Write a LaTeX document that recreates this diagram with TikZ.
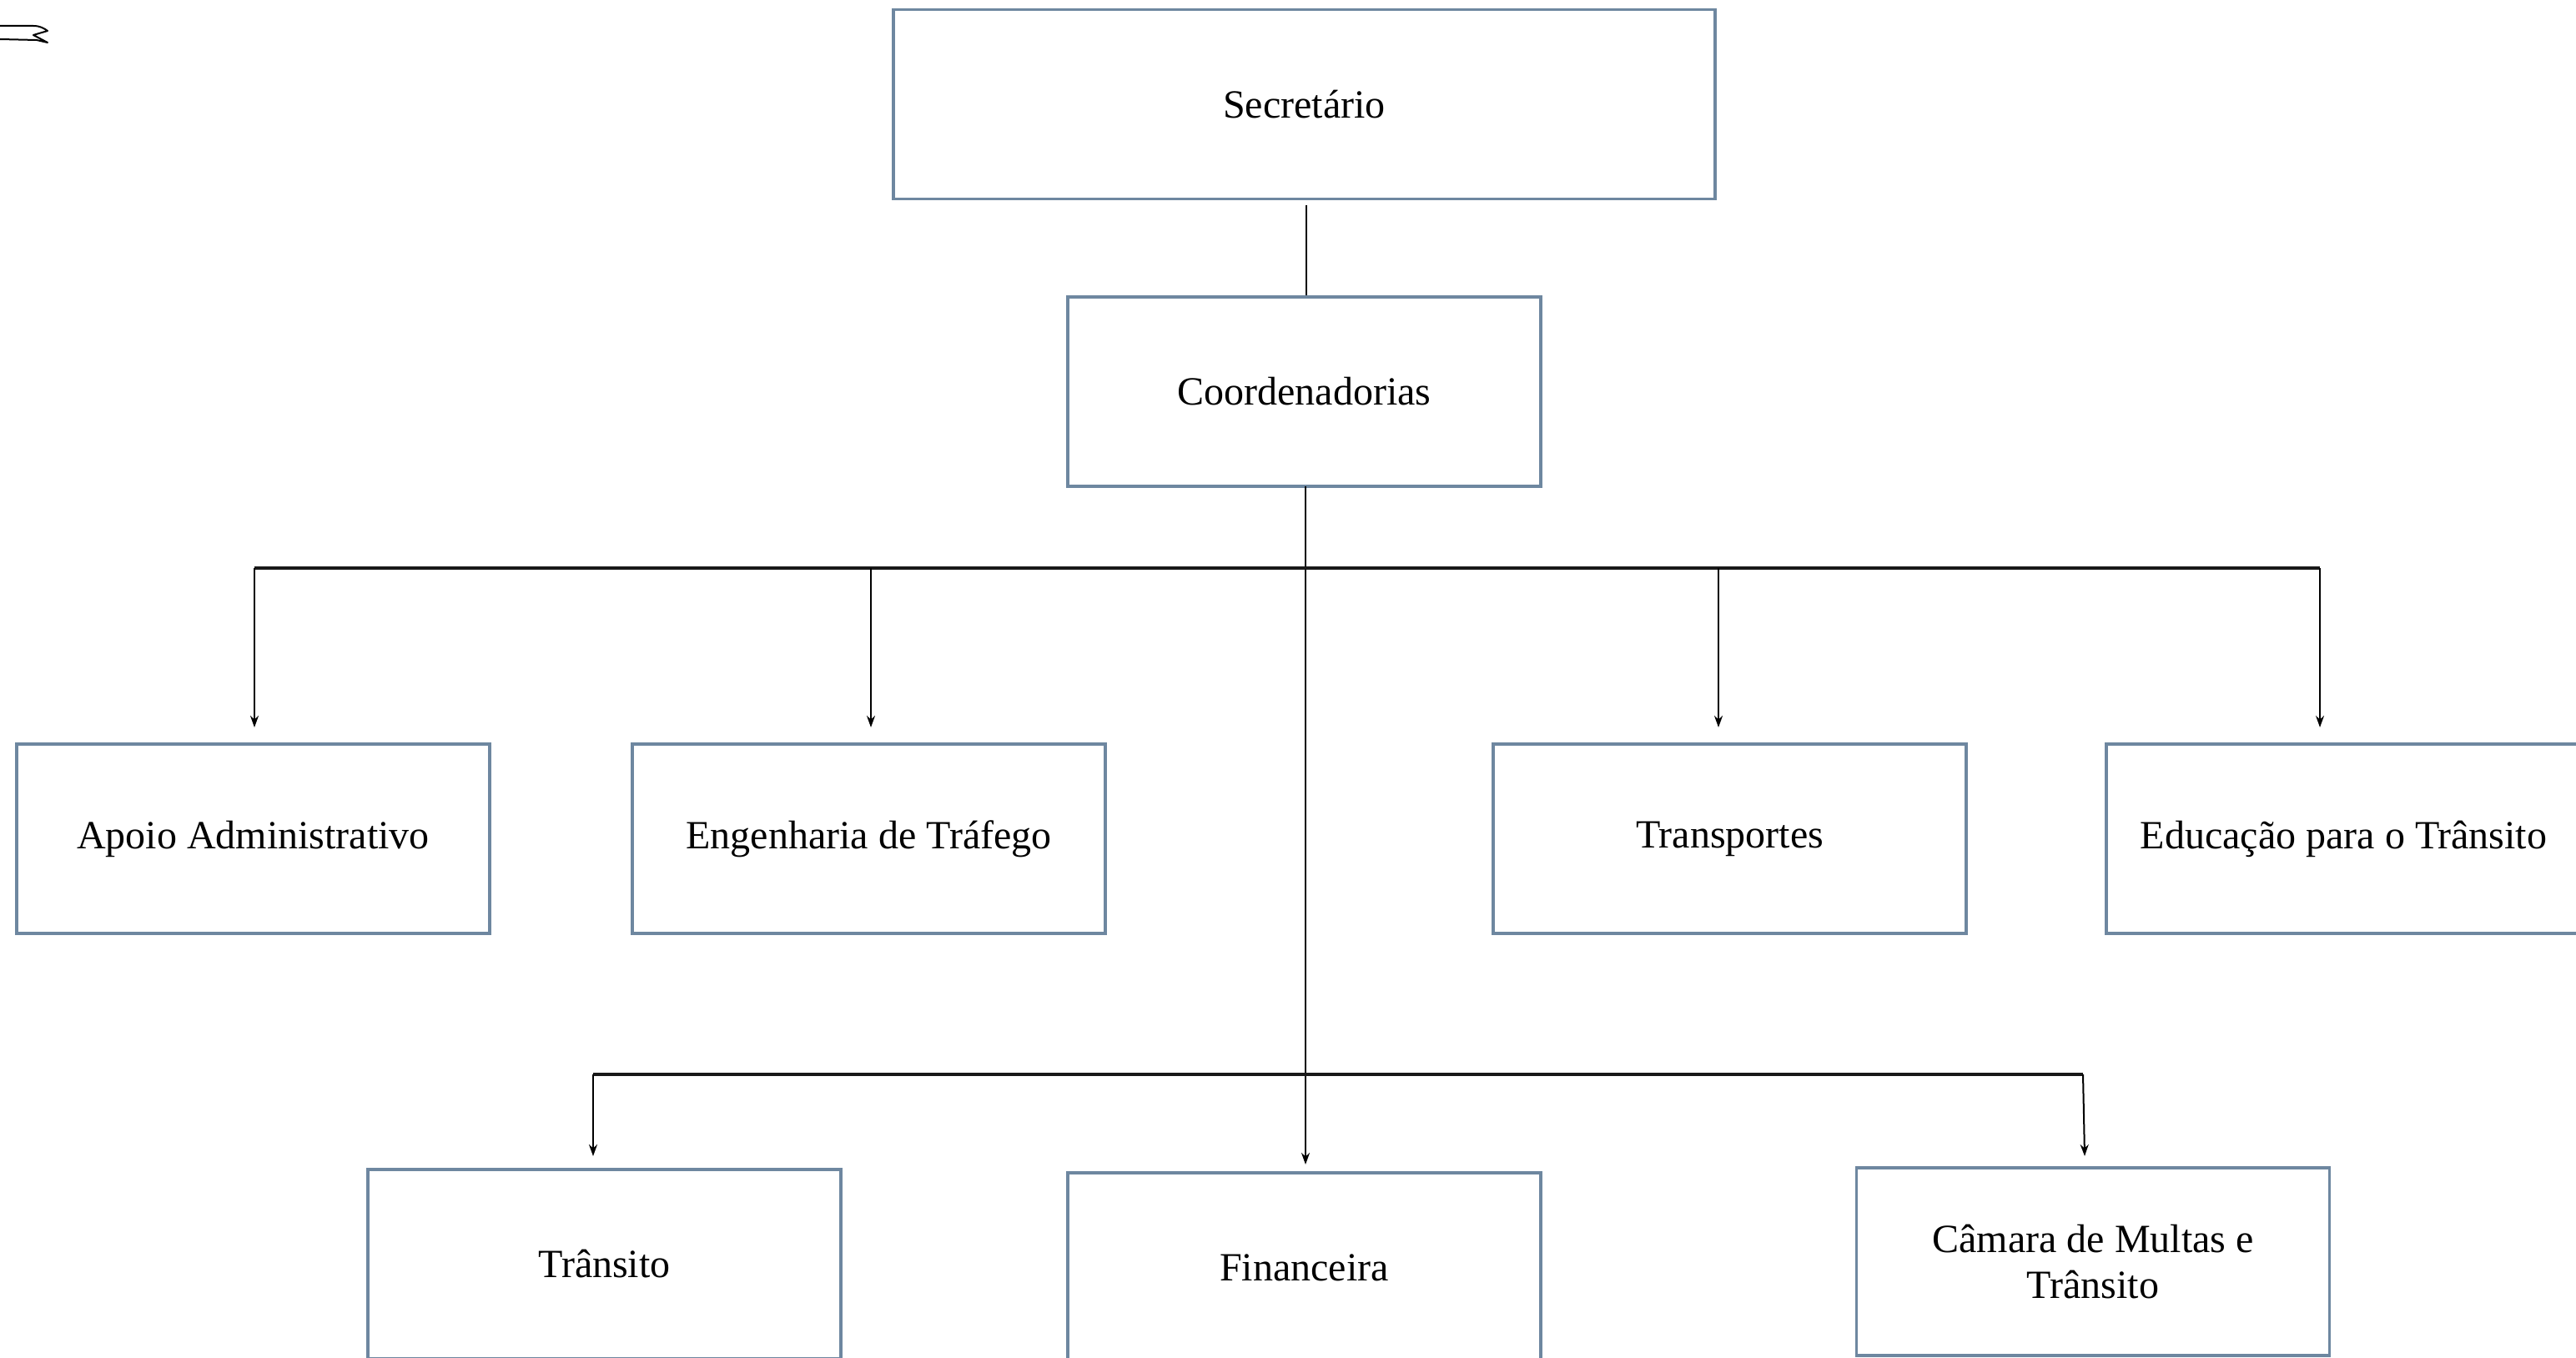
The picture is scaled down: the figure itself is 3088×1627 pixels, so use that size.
\documentclass[tikz,border=0pt]{standalone}
\usepackage{fontspec}
\setmainfont{Liberation Serif}
\usetikzlibrary{arrows.meta}
\definecolor{boxline}{HTML}{6E87A0}
\newcommand{\lowtxt}[1]{\raisebox{-5pt}{#1}}
\tikzset{
  orgbox/.style={draw=boxline, line width=3.5pt, fill=white, minimum width=567pt, minimum height=227pt, inner sep=0pt, align=center, font=\fontsize{48}{55}\selectfont},
  thinline/.style={draw=black, line width=2pt},
  barline/.style={draw=black!90, line width=3.5pt},
  arr/.style={thinline, -{Stealth[length=14pt,width=10pt]}}
}
\begin{document}
\begin{tikzpicture}[x=1pt,y=-1pt]
\useasboundingbox (0,0) rectangle (3088,1627);
% stray mark top left
\draw[line width=2pt, line join=round] (0,31) -- (40,31) .. controls (48,31) and (53,34) .. (57,37) -- (40,42) -- (57,51) -- (44,48) -- (0,47);
% nodes
\node[orgbox, minimum width=985pt] (sec) at (1563.5,125) {\lowtxt{Secretário}};
\node[orgbox] (coord) at (1563.5,469.5) {\lowtxt{Coordenadorias}};
\node[orgbox] (apoio) at (303.5,1005.5) {\lowtxt{Apoio Administrativo}};
\node[orgbox] (eng) at (1041.5,1005.5) {\lowtxt{Engenharia de Tráfego}};
\node[orgbox] (transp) at (2073.5,1005.5) {\lowtxt{Transportes}};
\node[orgbox, minimum width=569pt] (educ) at (2809.5,1005.5) {\lowtxt{Educação para o Trânsito}};
\node[orgbox] (transito) at (724.5,1515.5) {\lowtxt{Trânsito}};
\node[orgbox] (fin) at (1563.5,1519.5) {\lowtxt{Financeira}};
\node[orgbox, minimum height=225pt] (camara) at (2509,1512.5) {Câmara de Multas e\\Trânsito};
% junction coordinates
\coordinate (b1L) at (305,681);
\coordinate (b1R) at (2781,681);
\coordinate (b1E) at (1044,681);
\coordinate (b1T) at (2060,681);
\coordinate (b2L) at (711,1288);
\coordinate (b2R) at (2497,1288);
\coordinate (tApoio) at (305,872);
\coordinate (tEng) at (1044,872);
\coordinate (tTransp) at (2060,872);
\coordinate (tEduc) at (2781,872);
\coordinate (tTransito) at (711,1386);
\coordinate (tCamara) at (2499,1386);
\coordinate (tFin) at (1565,1396);
\coordinate (sTop) at (1566,246);
\coordinate (cBot) at (1565,583);
% connectors
\draw[thinline] (sTop) -- (coord.north -| sTop);
\draw[arr] (cBot) -- (tFin);
\draw[barline] (b1L) -- (b1R);
\draw[barline] (b2L) -- (b2R);
\draw[arr] (b1L) -- (tApoio);
\draw[arr] (b1E) -- (tEng);
\draw[arr] (b1T) -- (tTransp);
\draw[arr] (b1R) -- (tEduc);
\draw[arr] (b2L) -- (tTransito);
\draw[arr] (b2R) -- (tCamara);
\end{tikzpicture}
\end{document}
